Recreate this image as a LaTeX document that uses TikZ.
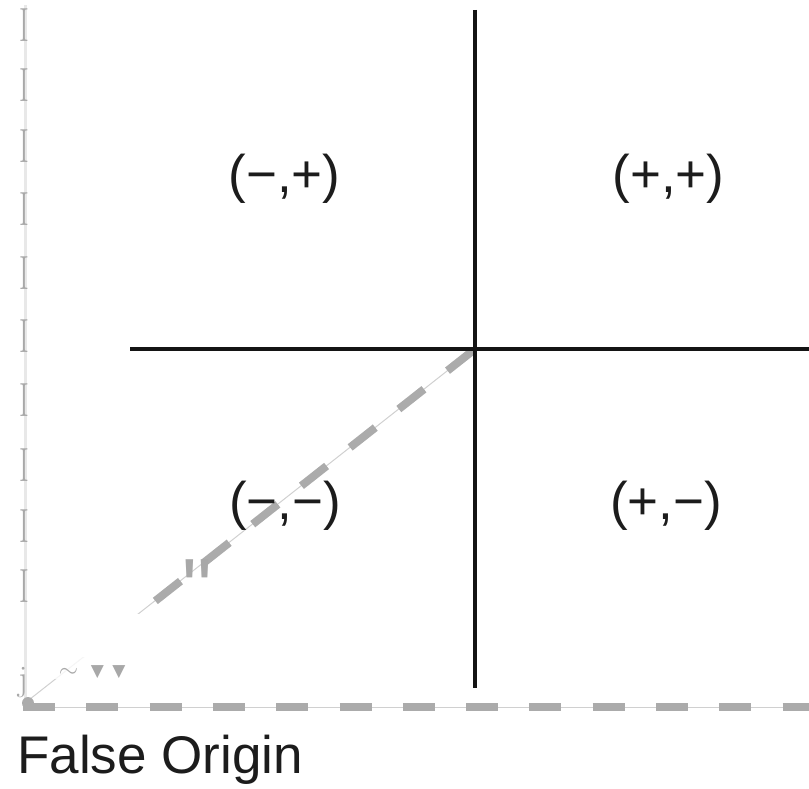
\documentclass[tikz,border=0pt]{standalone}
\usepackage{fontspec}
\setmainfont{Liberation Sans}
\newfontfamily\lmserif{Latin Modern Roman}
\newfontfamily\djv{DejaVu Sans}
\newfontfamily\qfont[Ligatures=TeXOff]{Liberation Sans}
\definecolor{axisblack}{HTML}{141414}
\definecolor{labelcol}{HTML}{1C1C1C}
\definecolor{dashgray}{HTML}{ABABAB}
\definecolor{thingray}{HTML}{D0D0D0}
\definecolor{ghost}{HTML}{A8A8A8}
\definecolor{faint}{HTML}{E8E8E8}
\tikzset{
  quad/.style={font=\fontsize{53}{53}\selectfont, text=labelcol, inner sep=0pt, anchor=base},
  axisline/.style={line width=4pt, draw=axisblack},
  thinline/.style={line width=1pt, draw=thingray},
  dashline/.style={line width=8.5pt, draw=dashgray, dash pattern=on 32pt off 31.3pt},
  ibar/.style={font=\lmserif\fontsize{48}{48}\selectfont, text=ghost, inner sep=0pt},
  artifact/.style={text=ghost, inner sep=0pt},
}
\begin{document}
\begin{tikzpicture}[x=1pt,y=-1pt]
\useasboundingbox (0,0) rectangle (809,789);
% coordinates
\coordinate (top) at (475,10);
\coordinate (bot) at (475,688);
\coordinate (left) at (130,349);
\coordinate (right) at (809,349);
\coordinate (O) at (475,349);
\coordinate (F) at (25,703);
\coordinate (D) at (140,613);
\coordinate (Fb) at (23,707);
\coordinate (Rb) at (809,707);
\coordinate (vtop) at (25,5);
\coordinate (vbot) at (25,700);
% left light axis
\draw[line width=3pt, draw=faint] (vtop) -- (vbot);
% bottom dashed axis
\draw[thinline] (Fb) -- (Rb);
\draw[dashline] (Fb) -- (Rb);
% diagonal
\draw[thinline] (O) -- (F);
\draw[dashline, line width=8pt, dash pattern=on 32pt off 30pt, dash phase=59pt] (O) -- (D);
% occluding patches
\fill[white] (82,614) rectangle (140,657);
\fill[white, opacity=0.8] (50,657) rectangle (84,679);
\fill[dashgray] (28,703) circle (6pt);
% black axes
\draw[axisline] (top) -- (bot);
\draw[axisline] (left) -- (right);
% quadrant labels
\node[quad] (q2) at (284.5,193) {(−,+)};
\node[quad] (q1) at (668.5,193) {(+,+)};
\node[quad] (q3) at (285,519) {(−,−)};
\node[quad] (q4) at (666,519) {(+,−)};
% false origin label
\node[font=\fontsize{53}{53}\selectfont, text=labelcol, inner sep=0pt, anchor=base west] (fo) at (17,773) {False Origin};
% ghost I marks on left axis
\foreach \yy [count=\k] in {25.5,85,146.5,209.5,273.5,336.5,400.5,465.5,526.5,586}
  \node[ibar] (i\k) at (24.5,\yy) {\scalebox{0.62}[1]{I}};
% other artifacts
\node[artifact, font=\lmserif\fontsize{36}{36}\selectfont, anchor=base] (aj) at (23,690) {j};
\node[artifact, font=\fontsize{30}{30}\selectfont] (at) at (68.5,673) {$\sim$};
\node[artifact, font=\djv\fontsize{17}{17}\selectfont] (tr1) at (97.5,672.5) {▼};
\node[artifact, font=\djv\fontsize{17}{17}\selectfont] (tr2) at (119,672.5) {▼};
\node[artifact, font=\qfont\fontsize{84}{84}\selectfont, anchor=north] (aq) at (197,560) {"};
\end{tikzpicture}
\end{document}
